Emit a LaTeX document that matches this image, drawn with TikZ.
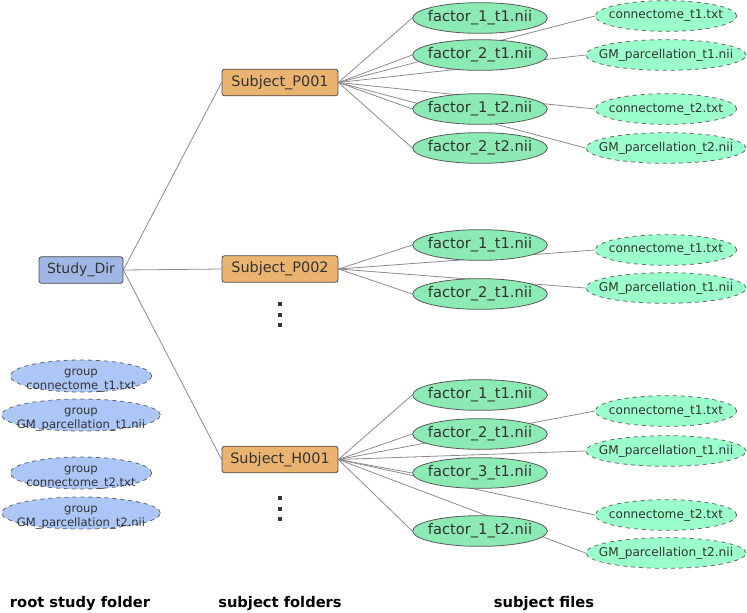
\documentclass[tikz,border=0pt]{standalone}
\usepackage{fontspec}
\setmainfont{DejaVu Sans}
\usetikzlibrary{shapes.geometric,backgrounds}

\definecolor{rootblue}{RGB}{160,182,228}
\definecolor{subjorange}{RGB}{234,180,112}
\definecolor{factgreen}{RGB}{140,235,180}
\definecolor{outgreen}{RGB}{155,255,204}
\definecolor{groupblue}{RGB}{172,198,248}
\definecolor{txtgray}{RGB}{51,51,51}
\definecolor{edgegray}{RGB}{140,140,140}

% file names do not stretch their ellipse
\newcommand{\fname}[1]{\makebox[0pt]{#1}}
\newcommand{\grpname}[1]{\makebox[0pt]{\smash{\raisebox{-0.55em}{\begin{tabular}{@{}c@{}}group\\#1\end{tabular}}}}}

\tikzset{every picture/.style={line width=0.6pt}}
\tikzset{
  rootbox/.style={draw=black!70, fill=rootblue, rounded corners=2pt, minimum width=63pt, minimum height=20pt, inner sep=0pt, text=txtgray, font=\fontsize{10.5}{12}\selectfont},
  subjbox/.style={draw=black!70, fill=subjorange, rounded corners=2pt, minimum width=87pt, minimum height=20pt, inner sep=0pt, text=txtgray, font=\fontsize{10.8}{12}\selectfont},
  factor/.style={ellipse, draw=black!65, fill=factgreen, minimum width=101pt, minimum height=23pt, inner sep=0pt, text=txtgray, font=\fontsize{11}{12}\selectfont},
  outfile/.style={ellipse, draw=black!60, dashed, fill=outgreen, minimum width=#1, minimum height=23pt, inner sep=0pt, text=txtgray, font=\fontsize{9.1}{10}\selectfont},
  groupfile/.style={ellipse, draw=black!60, dashed, fill=groupblue, minimum width=#1, minimum height=24pt, inner sep=0pt, text=txtgray, font=\fontsize{8.7}{10.5}\selectfont},
  caption/.style={font=\bfseries\fontsize{11}{12}\selectfont, text=black},
  link/.style={draw=edgegray, line width=0.6pt}
}

\begin{document}
\begin{tikzpicture}[x=0.75pt,y=0.75pt,yscale=-1,xscale=1]
\path[use as bounding box] (0,0) rectangle (747,612);

% root and subject folders
\node[rootbox] (root) at (81,270) {Study\_Dir};
\node[subjbox] (p001) at (280,82.5) {Subject\_P001};
\node[subjbox] (p002) at (280,269) {Subject\_P002};
\node[subjbox] (h001) at (280,459.5) {Subject\_H001};
% more subjects
\foreach \y in {304,314.5,325,498,508.5,519}
  \fill[txtgray] (278,\y-2) rectangle (282,\y+2);

% Subject_P001 files
\node[factor] (p001f1) at (480,18) {\fname{factor\_1\_t1.nii}};
\node[factor] (p001f2) at (480,55) {\fname{factor\_2\_t1.nii}};
\node[factor] (p001f3) at (480,109) {\fname{factor\_1\_t2.nii}};
\node[factor] (p001f4) at (480,148) {\fname{factor\_2\_t2.nii}};
\node[outfile=106pt] (p001c1) at (666,16) {\fname{connectome\_t1.txt}};
\node[outfile=120pt] (p001g1) at (666,55) {\fname{GM\_parcellation\_t1.nii}};
\node[outfile=106pt] (p001c2) at (666,109) {\fname{connectome\_t2.txt}};
\node[outfile=120pt] (p001g2) at (666,148) {\fname{GM\_parcellation\_t2.nii}};

% Subject_P002 files
\node[factor] (p002f1) at (480,245) {\fname{factor\_1\_t1.nii}};
\node[factor] (p002f2) at (480,294) {\fname{factor\_2\_t1.nii}};
\node[outfile=106pt] (p002c1) at (666,250) {\fname{connectome\_t1.txt}};
\node[outfile=120pt] (p002g1) at (666,288) {\fname{GM\_parcellation\_t1.nii}};

% Subject_H001 files
\node[factor] (h001f1) at (480,395) {\fname{factor\_1\_t1.nii}};
\node[factor] (h001f2) at (480,434) {\fname{factor\_2\_t1.nii}};
\node[factor] (h001f3) at (480,473) {\fname{factor\_3\_t1.nii}};
\node[factor] (h001f4) at (480,531) {\fname{factor\_1\_t2.nii}};
\node[outfile=106pt] (h001c1) at (666,411) {\fname{connectome\_t1.txt}};
\node[outfile=120pt] (h001g1) at (666,451) {\fname{GM\_parcellation\_t1.nii}};
\node[outfile=106pt] (h001c2) at (666,515) {\fname{connectome\_t2.txt}};
\node[outfile=120pt] (h001g2) at (666,553) {\fname{GM\_parcellation\_t2.nii}};

% group files
\node[groupfile=106pt] (grpc1) at (81,376) {\grpname{connectome\_t1.txt}};
\node[groupfile=119pt] (grpg1) at (81,415) {\grpname{GM\_parcellation\_t1.nii}};
\node[groupfile=106pt] (grpc2) at (81,473) {\grpname{connectome\_t2.txt}};
\node[groupfile=119pt] (grpg2) at (81,513) {\grpname{GM\_parcellation\_t2.nii}};

% captions
\node[caption] (caproot) at (80,603) {root study folder};
\node[caption] (capsubj) at (280,603) {subject folders};
\node[caption] (capfile) at (544,603) {subject files};

% links
\begin{scope}[on background layer]
\foreach \s in {p001,p002,h001}
  \draw[link] (root.east) -- (\s.west);
\foreach \f in {p001f1,p001f2,p001f3,p001f4,p001c1,p001g1,p001c2,p001g2}
  \draw[link] (p001.east) -- (\f.west);
\foreach \f in {p002f1,p002f2,p002c1,p002g1}
  \draw[link] (p002.east) -- (\f.west);
\foreach \f in {h001f1,h001f2,h001f3,h001f4,h001c1,h001g1,h001c2,h001g2}
  \draw[link] (h001.east) -- (\f.west);
\end{scope}

\end{tikzpicture}
\end{document}
